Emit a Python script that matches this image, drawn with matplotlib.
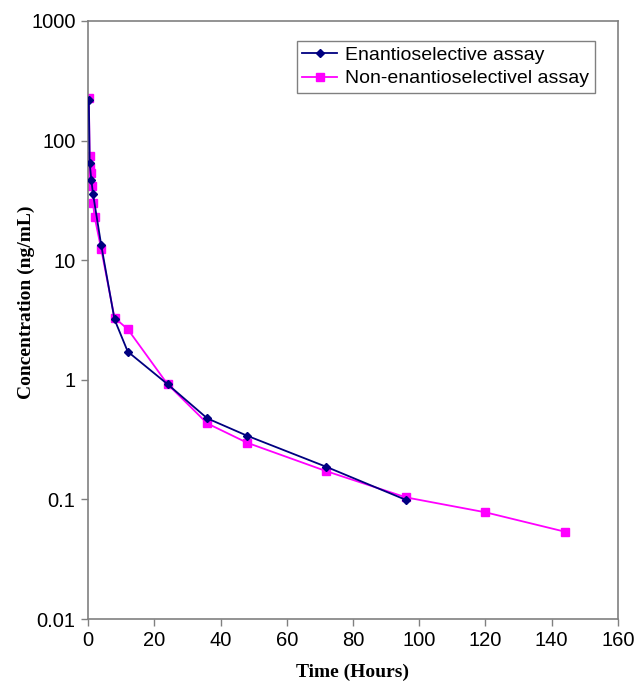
import matplotlib.pyplot as plt
from matplotlib.ticker import FixedLocator, FixedFormatter, NullLocator

# sampling times (hours) and plasma concentrations (ng/mL)
enantio_time = [0.25, 0.5, 1, 1.5, 4, 8, 12, 24, 36, 48, 72, 96]
enantio_conc = [220, 65, 47, 36, 13.3, 3.2, 1.72, 0.92, 0.476, 0.341, 0.187, 0.099]

non_enantio_time = [0.25, 0.5, 0.75, 1, 1.25, 1.5, 2, 4, 8, 12, 24, 36, 48, 72, 96, 120, 144]
non_enantio_conc = [228, 75, 60, 54, 42, 30, 23, 12.3, 3.3, 2.65, 0.92, 0.432, 0.298, 0.172,
                    0.104, 0.078, 0.0537]

y_ticks = [0.01, 0.1, 1, 10, 100, 1000]
y_tick_labels = ["0.01", "0.1", "1", "10", "100", "1000"]
x_ticks = [0, 20, 40, 60, 80, 100, 120, 140, 160]

fig = plt.figure(figsize=(6.41, 6.84), dpi=100)
ax = fig.add_axes([0.1373, 0.0950, 0.8268, 0.8743])

ax.plot(enantio_time, enantio_conc, color="#000080", marker="D", markersize=4,
        linewidth=1.3, label="Enantioselective assay", zorder=3)
ax.plot(non_enantio_time, non_enantio_conc, color="#FF00FF", marker="s", markersize=6,
        linewidth=1.3, label="Non-enantioselectivel assay", zorder=2)

ax.set_yscale("log")
ax.set_ylim(0.01, 1000)
ax.set_xlim(0, 160)
ax.yaxis.set_major_locator(FixedLocator(y_ticks))
ax.yaxis.set_major_formatter(FixedFormatter(y_tick_labels))
ax.yaxis.set_minor_locator(NullLocator())
ax.set_xticks(x_ticks)

for spine in ax.spines.values():
    spine.set_color("#808080")
    spine.set_linewidth(1.2)
ax.tick_params(axis="both", direction="out", length=5, width=1.0, color="#808080",
               labelsize=14.5, labelcolor="black")
ax.tick_params(axis="y", pad=4)
for lab in ax.get_xticklabels() + ax.get_yticklabels():
    lab.set_family("Liberation Sans")

ax.set_xlabel("Time (Hours)", family="Liberation Serif", fontweight="bold", fontsize=14,
              labelpad=10)
ax.set_ylabel("Concentration (ng/mL)", family="Liberation Serif", fontweight="bold",
              fontsize=14, labelpad=6)
ax.yaxis.set_label_coords(-0.1, 0.53)

leg = ax.legend(loc="upper right", bbox_to_anchor=(0.975, 0.9835), fancybox=False,
                framealpha=1, edgecolor="#808080", prop={"family": "Liberation Sans", "size": 14},
                handlelength=1.8, borderpad=0.3, labelspacing=0.3, handletextpad=0.4)
leg.get_frame().set_linewidth(1.0)

fig.savefig("out.png", dpi=100)
